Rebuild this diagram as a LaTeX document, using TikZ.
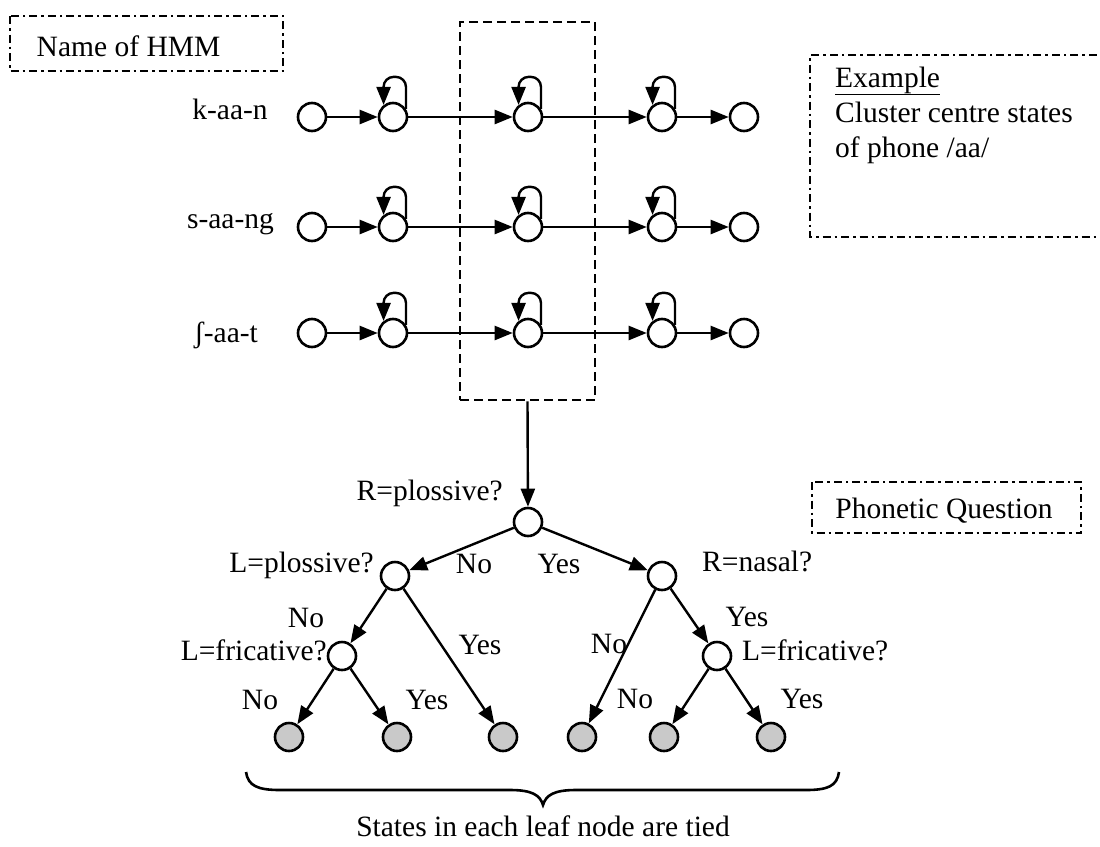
\documentclass[tikz,border=0pt]{standalone}
\usepackage{fontspec}
\setmainfont{Liberation Serif}
\usetikzlibrary{arrows.meta}
\begin{document}
\begin{tikzpicture}[x=1pt,y=-1pt,
  st/.style={circle, draw, line width=2.6pt, minimum size=28pt, inner sep=0pt},
  leaf/.style={st, fill=gray!42},
  arr/.style={line width=2.4pt, -{Triangle[length=18pt,width=14pt]}},
  lbl/.style={font=\fontsize{29.5}{35}\selectfont, inner sep=0pt},
  ddbox/.style={line width=2.6pt, dash pattern=on 8pt off 4pt on 2.5pt off 4pt},
  dbox/.style={draw, line width=2.6pt, dash pattern=on 9pt off 5pt}]
\clip (0,0) rectangle (1100,846);
\fill[white] (0,0) rectangle (1100,846);

% Name of HMM box
\draw[ddbox] (10,16) rectangle (283,71);
\node[lbl, anchor=base] (nh) at (128.5,56) {Name of HMM};

% HMM labels
\node[lbl, anchor=base] (w1) at (230,119) {k-aa-n};
\node[lbl, anchor=base] (w2) at (230.5,228) {s-aa-ng};
\node[lbl, anchor=base] (w3) at (226,342) {ʃ-aa-t};

% HMM chains
\foreach \row/\yy in {1/117,2/227,3/333}{
  \node[st] (s\row a) at (312,\yy) {};
  \node[st] (s\row b) at (393,\yy) {};
  \node[st] (s\row c) at (528,\yy) {};
  \node[st] (s\row d) at (662,\yy) {};
  \node[st] (s\row e) at (744,\yy) {};
  \draw[arr] (s\row a) -- (s\row b);
  \draw[arr] (s\row b) -- (s\row c);
  \draw[arr] (s\row c) -- (s\row d);
  \draw[arr] (s\row d) -- (s\row e);
  \foreach \n in {b,c,d}{
    \draw[arr, rounded corners=10pt] (s\row\n.32) -- ++(0,-32) -| (s\row\n.128);
  }
}

% dashed selection box
\node[dbox, minimum width=135pt, minimum height=378pt, inner sep=0pt] (box) at (527.5,211) {};

% Example box
\draw[ddbox] (1115,55) -- (810,55) -- (810,237) -- (1115,237);
\node[lbl, anchor=base west] (ex1) at (835,87) {\underline{Example}};
\node[lbl, anchor=base west] (ex2) at (835,122) {Cluster centre states};
\node[lbl, anchor=base west] (ex3) at (835,157) {of phone /aa/};

% Phonetic Question box
\draw[ddbox] (812,482) rectangle (1081,533);
\node[lbl, anchor=base] (pq) at (944,518) {Phonetic Question};

% Tree nodes
\node[st] (root) at (528,522) {};
\node[st] (L1) at (395,576) {};
\node[st] (R1) at (662,576) {};
\node[st] (L2) at (342,656) {};
\node[st] (R2) at (717,656) {};
\node[leaf] (f1) at (289,737) {};
\node[leaf] (f2) at (397,737) {};
\node[leaf] (f3) at (503,737) {};
\node[leaf] (f4) at (582,737) {};
\node[leaf] (f5) at (664,737) {};
\node[leaf] (f6) at (771,737) {};

% Tree edges
\draw[arr] (box.south) -- (root);
\draw[arr] (root) -- (L1);
\draw[arr] (root) -- (R1);
\draw[arr] (L1) -- (L2);
\draw[arr] (L1) -- (f3);
\draw[arr] (L2) -- (f1);
\draw[arr] (L2) -- (f2);
\draw[arr] (R1) -- (f4);
\draw[arr] (R1) -- (R2);
\draw[arr] (R2) -- (f5);
\draw[arr] (R2) -- (f6);

% Tree labels
\node[lbl, anchor=base east] (q0) at (503,500) {R=plossive?};
\node[lbl, anchor=base east] (q1) at (374,572) {L=plossive?};
\node[lbl, anchor=base west] (q2) at (702,571) {R=nasal?};
\node[lbl, anchor=base east] (q3) at (327,660) {L=fricative?};
\node[lbl, anchor=base west] (q4) at (742,660) {L=fricative?};
\node[lbl, anchor=base] (a1) at (474,573) {No};
\node[lbl, anchor=base] (a2) at (559,573) {Yes};
\node[lbl, anchor=base] (a3) at (306,627) {No};
\node[lbl, anchor=base] (a4) at (480,654) {Yes};
\node[lbl, anchor=base] (a5) at (260,709) {No};
\node[lbl, anchor=base] (a6) at (427,709) {Yes};
\node[lbl, anchor=base] (a7) at (609,653) {No};
\node[lbl, anchor=base] (a8) at (747,626) {Yes};
\node[lbl, anchor=base] (a9) at (635,708) {No};
\node[lbl, anchor=base] (a10) at (802,708) {Yes};

% Brace
\draw[line width=2.6pt] (246,772) .. controls (248,786) and (258,790) .. (280,790)
  -- (510,790) .. controls (532,790) and (540,795) .. (543,805)
  .. controls (546,795) and (554,790) .. (576,790)
  -- (806,790) .. controls (828,790) and (837,786) .. (839,772);
\node[lbl, anchor=base] (tied) at (543,836) {States in each leaf node are tied};
\end{tikzpicture}
\end{document}
